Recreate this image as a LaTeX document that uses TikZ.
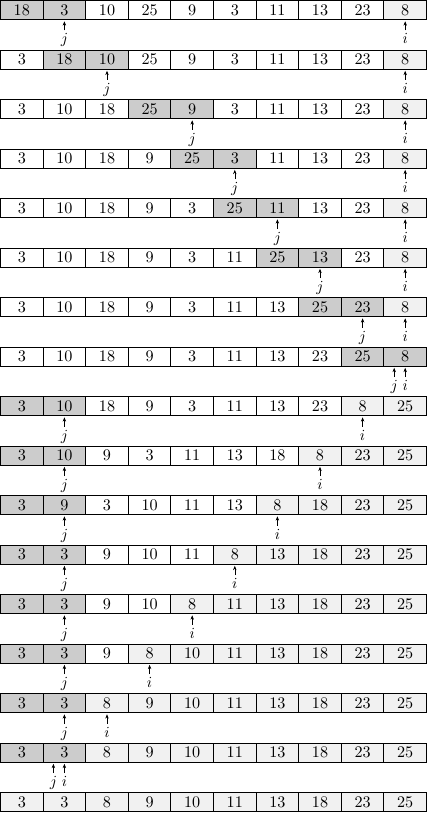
\documentclass[tikz,border=0pt]{standalone}
\usetikzlibrary{arrows.meta}
\definecolor{cD}{RGB}{204,204,204}
\definecolor{cL}{RGB}{241,241,241}
\definecolor{cW}{RGB}{255,255,255}
\begin{document}
\begin{tikzpicture}[x=0.65pt,y=-0.65pt,
  cell/.style={draw=black,line width=0.6pt,minimum width=27.69pt,minimum height=12.35pt,inner sep=0pt,outer sep=0pt,font=\fontsize{10.5}{12}\selectfont},
  ptr/.style={line width=0.35pt,-{Stealth[length=2.8pt,width=2.2pt]}},
  lab/.style={inner sep=0pt,anchor=base,font=\fontsize{10}{12}\selectfont}]
\useasboundingbox (0,0) rectangle (427,813);
\foreach \k/\vals/\jc/\ic in {
 0/{18/cD,3/cD,10/cW,25/cW,9/cW,3/cW,11/cW,13/cW,23/cW,8/cL}/1/9,
 1/{3/cW,18/cD,10/cD,25/cW,9/cW,3/cW,11/cW,13/cW,23/cW,8/cL}/2/9,
 2/{3/cW,10/cW,18/cW,25/cD,9/cD,3/cW,11/cW,13/cW,23/cW,8/cL}/4/9,
 3/{3/cW,10/cW,18/cW,9/cW,25/cD,3/cD,11/cW,13/cW,23/cW,8/cL}/5/9,
 4/{3/cW,10/cW,18/cW,9/cW,3/cW,25/cD,11/cD,13/cW,23/cW,8/cL}/6/9,
 5/{3/cW,10/cW,18/cW,9/cW,3/cW,11/cW,25/cD,13/cD,23/cW,8/cL}/7/9,
 6/{3/cW,10/cW,18/cW,9/cW,3/cW,11/cW,13/cW,25/cD,23/cD,8/cL}/8/9,
 7/{3/cW,10/cW,18/cW,9/cW,3/cW,11/cW,13/cW,23/cW,25/cD,8/cD}/9/9,
 8/{3/cD,10/cD,18/cW,9/cW,3/cW,11/cW,13/cW,23/cW,8/cL,25/cL}/1/8,
 9/{3/cD,10/cD,9/cW,3/cW,11/cW,13/cW,18/cW,8/cL,23/cL,25/cL}/1/7,
 10/{3/cD,9/cD,3/cW,10/cW,11/cW,13/cW,8/cL,18/cL,23/cL,25/cL}/1/6,
 11/{3/cD,3/cD,9/cW,10/cW,11/cW,8/cL,13/cL,18/cL,23/cL,25/cL}/1/5,
 12/{3/cD,3/cD,9/cW,10/cW,8/cL,11/cL,13/cL,18/cL,23/cL,25/cL}/1/4,
 13/{3/cD,3/cD,9/cW,8/cL,10/cL,11/cL,13/cL,18/cL,23/cL,25/cL}/1/3,
 14/{3/cD,3/cD,8/cL,9/cL,10/cL,11/cL,13/cL,18/cL,23/cL,25/cL}/1/2,
 15/{3/cD,3/cD,8/cL,9/cL,10/cL,11/cL,13/cL,18/cL,23/cL,25/cL}/1/1,
 16/{3/cL,3/cL,8/cL,9/cL,10/cL,11/cL,13/cL,18/cL,23/cL,25/cL}/-1/-1}
{
  \pgfmathsetmacro{\yc}{0.5+49.5*\k+9.5}
  \pgfmathsetmacro{\yb}{0.5+49.5*\k+19}
  \foreach \v/\s [count=\c from 0] in \vals {
    \node[cell,fill=\s] (r\k-\c) at ({0.5+42.6*(\c+0.5)},\yc) {\v};
  }
  \ifnum\jc>-1
    \pgfmathsetmacro{\xi}{0.5+42.6*(\ic+0.5)}
    \ifnum\jc=\ic
      \pgfmathsetmacro{\xj}{\xi-11}
    \else
      \pgfmathsetmacro{\xj}{0.5+42.6*(\jc+0.5)}
    \fi
    \coordinate (hj\k) at (\xj,\yb+1.8);
    \coordinate (tj\k) at (\xj,\yb+11);
    \coordinate (hi\k) at (\xi,\yb+1.8);
    \coordinate (ti\k) at (\xi,\yb+11);
    \node[lab] (lj\k) at (\xj,\yb+24.5) {$j$};
    \node[lab] (li\k) at (\xi,\yb+24.5) {$i$};
    \draw[ptr] (tj\k) -- (hj\k);
    \draw[ptr] (ti\k) -- (hi\k);
  \fi
}
\end{tikzpicture}
\end{document}
